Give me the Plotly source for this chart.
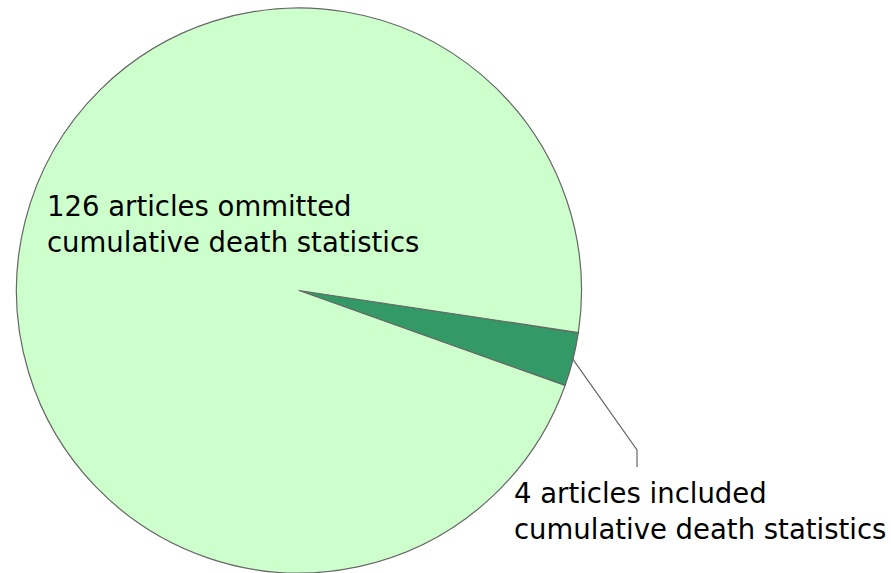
import math
import plotly.graph_objects as go

# Data
categories = ["4 articles included cumulative death statistics",
              "126 articles ommitted cumulative death statistics"]
values = [4, 126]
label_lines = [["4 articles included", "cumulative death statistics"],
               ["126 articles ommitted", "cumulative death statistics"]]
colors = ["#339966", "#CCFFCC"]

W, H = 891, 573
top_margin = 8
rotation = 98.56

fig = go.Figure(go.Pie(
    labels=categories,
    values=values,
    sort=False,
    direction="clockwise",
    rotation=rotation,
    textinfo="none",
    hoverinfo="label+value",
    marker=dict(colors=colors, line=dict(color="#666666", width=1.2)),
    domain=dict(x=[0, 598 / W], y=[0, 1]),
    showlegend=False,
))

# Pie geometry (pixels) for the leader line
plot_h = H - top_margin
r = plot_h / 2
cx = 598 / 2
cy = top_margin + r
total = sum(values)
mid_angle = math.radians(rotation + values[0] / total * 360 / 2)
sx = cx + r * math.sin(mid_angle)
sy = cy - r * math.cos(mid_angle)
ex, ey = 637, 450
fx, fy = 637, 467

def px(x):
    return x / W

def py(y):
    return 1 - (y - top_margin) / plot_h

fig.add_shape(type="path",
              path=f"M {px(sx)} {py(sy)} L {px(ex)} {py(ey)} L {px(fx)} {py(fy)}",
              xref="paper", yref="paper",
              line=dict(color="#666666", width=1.2))

font = dict(family="DejaVu Sans", size=27.5, color="#000000")
fig.add_annotation(x=px(512), y=py(511), xref="paper", yref="paper",
                   text="<br>".join(label_lines[0]), showarrow=False,
                   xanchor="left", yanchor="middle", align="left", font=font)
fig.add_annotation(x=px(45), y=py(223.5), xref="paper", yref="paper",
                   text="<br>".join(label_lines[1]), showarrow=False,
                   xanchor="left", yanchor="middle", align="left", font=font)

fig.update_layout(width=W, height=H,
                  margin=dict(l=0, r=0, t=top_margin, b=0),
                  paper_bgcolor="white", plot_bgcolor="white")

fig.write_html("out.html",
               config={"displayModeBar": False},
               post_script="document.body.style.margin='0';document.body.style.overflow='hidden';")
